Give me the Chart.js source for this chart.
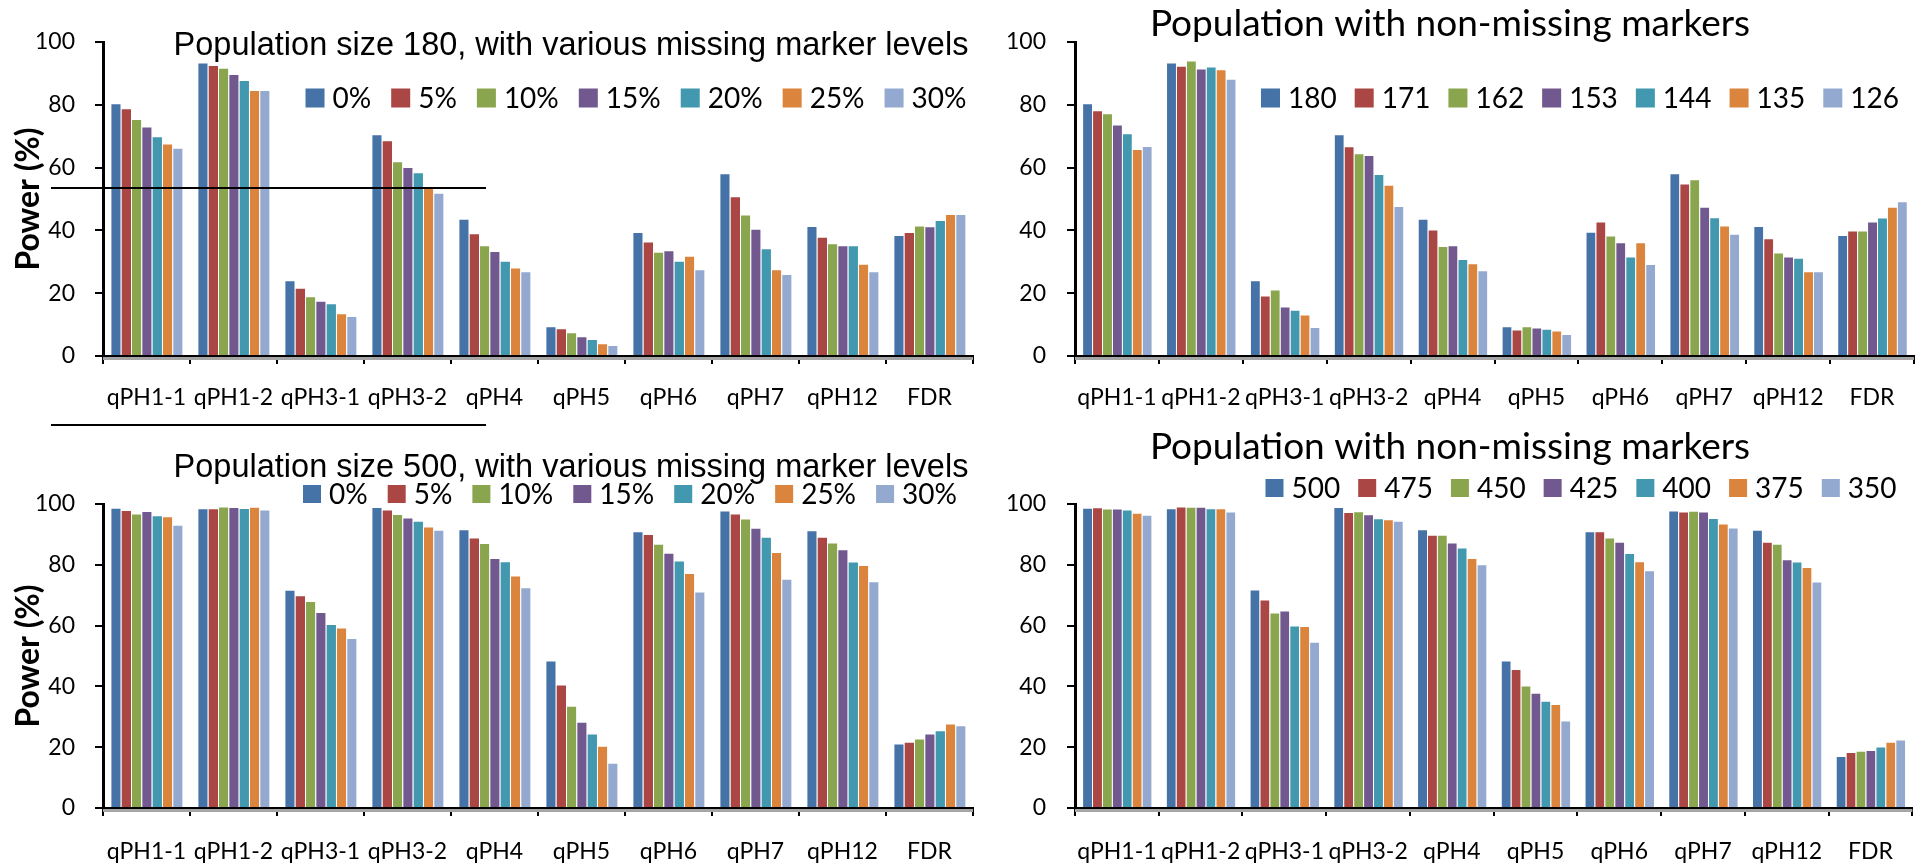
<!DOCTYPE html>
<html>
<head>
<meta charset="utf-8">
<script src="https://cdn.jsdelivr.net/npm/chart.js@4.4.1/dist/chart.umd.min.js"></script>
<style>
  html, body { margin: 0; padding: 0; background: #fff; }
  #wrap { position: relative; width: 1915px; height: 868px; overflow: hidden; }
  .panel { position: absolute; }
</style>
</head>
<body>
<div id="wrap">
  <div class="panel" style="left:0;top:0"><canvas id="c180miss" width="980" height="430"></canvas></div>
  <div class="panel" style="left:980px;top:0"><canvas id="c180full" width="935" height="430"></canvas></div>
  <div class="panel" style="left:0;top:430px"><canvas id="c500miss" width="980" height="438"></canvas></div>
  <div class="panel" style="left:980px;top:430px"><canvas id="c500full" width="935" height="438"></canvas></div>
</div>
<script>
const categories = ['qPH1-1', 'qPH1-2', 'qPH3-1', 'qPH3-2', 'qPH4', 'qPH5', 'qPH6', 'qPH7', 'qPH12', 'FDR'];
const missingLevels = ['0%', '5%', '10%', '15%', '20%', '25%', '30%'];
const sizes180 = ['180', '171', '162', '153', '144', '135', '126'];
const sizes500 = ['500', '475', '450', '425', '400', '375', '350'];
const yTicks = [0, 20, 40, 60, 80, 100];
const seriesColors = ['#4572A7', '#AA4643', '#89A54E', '#71588F', '#4198AF', '#DB843D', '#93A9CF'];

// one row per series, values follow the categories order
const pop180Missing = [
  [80.5, 93.5, 24.1, 70.6, 43.7, 9.5, 39.5, 58.2, 41.4, 38.5],
  [78.9, 92.7, 21.7, 68.7, 39.1, 8.8, 36.5, 50.9, 38.0, 39.5],
  [75.5, 91.8, 19.0, 62.0, 35.3, 7.6, 33.2, 45.1, 35.9, 41.6],
  [73.1, 89.8, 17.6, 60.2, 33.4, 6.3, 33.7, 40.5, 35.3, 41.3],
  [70.0, 87.9, 16.8, 58.5, 30.3, 5.4, 30.3, 34.3, 35.3, 43.3],
  [67.7, 84.7, 13.6, 54.1, 28.2, 4.1, 31.9, 27.6, 29.4, 45.2],
  [66.3, 84.7, 12.7, 52.0, 27.0, 3.5, 27.6, 26.1, 27.0, 45.2]
];
const pop180Full = [
  [80.5, 93.5, 24.1, 70.6, 43.7, 9.5, 39.6, 58.2, 41.4, 38.5],
  [78.3, 92.4, 19.3, 66.8, 40.3, 8.4, 42.8, 54.9, 37.5, 40.0],
  [77.3, 94.1, 21.2, 64.6, 35.0, 9.5, 38.4, 56.3, 33.0, 40.0],
  [73.7, 91.6, 15.8, 64.0, 35.3, 9.1, 36.2, 47.5, 31.7, 42.8],
  [70.9, 92.2, 14.7, 58.0, 30.9, 8.7, 31.7, 44.2, 31.3, 44.1],
  [65.9, 91.3, 13.2, 54.5, 29.5, 8.1, 36.2, 41.6, 27.0, 47.5],
  [66.9, 88.3, 9.2, 47.8, 27.3, 7.0, 29.3, 38.9, 27.0, 49.3]
];
const pop500Missing = [
  [98.8, 98.6, 71.8, 99.0, 91.7, 48.5, 91.0, 97.9, 91.4, 21.2],
  [98.0, 98.6, 70.0, 98.2, 89.0, 40.6, 90.1, 96.9, 89.2, 21.8],
  [96.9, 99.2, 68.1, 96.7, 87.2, 33.6, 86.9, 95.2, 87.3, 22.9],
  [97.7, 99.0, 64.5, 95.6, 82.2, 28.4, 84.0, 92.2, 85.1, 24.5],
  [96.3, 98.7, 60.5, 94.5, 81.2, 24.5, 81.4, 89.2, 81.1, 25.6],
  [96.0, 99.1, 59.4, 92.6, 76.5, 20.5, 77.3, 84.2, 79.9, 27.8],
  [93.2, 98.2, 55.9, 91.5, 72.6, 14.9, 71.2, 75.4, 74.6, 27.2]
];
const pop500Full = [
  [98.8, 98.6, 71.9, 99.0, 91.7, 48.5, 91.0, 97.9, 91.5, 17.1],
  [98.9, 99.2, 68.6, 97.4, 89.9, 45.7, 91.0, 97.5, 87.6, 18.4],
  [98.5, 99.1, 64.3, 97.6, 89.9, 40.3, 89.0, 97.8, 86.9, 18.8],
  [98.5, 99.1, 65.0, 96.6, 87.3, 37.9, 87.6, 97.5, 81.8, 19.1],
  [98.2, 98.6, 60.0, 95.3, 85.7, 35.3, 83.9, 95.4, 81.1, 20.2],
  [97.1, 98.6, 59.9, 95.0, 82.2, 34.2, 81.2, 93.6, 79.3, 21.8],
  [96.5, 97.5, 54.7, 94.5, 80.2, 28.8, 78.2, 92.3, 74.5, 22.5]
];

const calibriLike = 'Lato, "Open Sans", sans-serif';

// title, legend and a couple of loose rules drawn straight on the canvas
const overlay = {
  id: 'overlay',
  beforeDatasetsDraw(chart) {
    // grey shadow under the category axis, like the original
    const { left, right, bottom } = chart.chartArea;
    const ctx = chart.ctx;
    ctx.save();
    ctx.fillStyle = '#a6a6a6';
    ctx.fillRect(left, bottom + 1, right - left, 3);
    ctx.restore();
  },
  afterDraw(chart, args, opts) {
    const ctx = chart.ctx;
    ctx.save();
    if (opts.title) {
      ctx.font = opts.title.font;
      ctx.fillStyle = '#000';
      ctx.textAlign = 'center';
      ctx.textBaseline = 'alphabetic';
      ctx.fillText(opts.title.text, opts.title.x, opts.title.y);
    }
    if (opts.legend) {
      const lg = opts.legend;
      ctx.font = lg.font;
      const items = chart.data.datasets.map(ds => ({
        label: ds.label,
        color: ds.backgroundColor,
        w: ctx.measureText(ds.label).width
      }));
      const total = items.reduce((s, it) => s + lg.box + lg.pad + it.w, 0) + lg.gap * (items.length - 1);
      let x = lg.x - total / 2;
      items.forEach(it => {
        ctx.fillStyle = it.color;
        ctx.fillRect(x, lg.y - lg.box / 2, lg.box, lg.box);
        ctx.fillStyle = '#000';
        ctx.textAlign = 'left';
        ctx.textBaseline = 'middle';
        ctx.fillText(it.label, x + lg.box + lg.pad, lg.y + 1);
        x += lg.box + lg.pad + it.w + lg.gap;
      });
    }
    (opts.lines || []).forEach(l => {
      ctx.strokeStyle = '#000';
      ctx.lineWidth = 2;
      ctx.beginPath();
      ctx.moveTo(l[0], l[1]);
      ctx.lineTo(l[2], l[3]);
      ctx.stroke();
    });
    ctx.restore();
  }
};

function makeChart(id, cfg) {
  const datasets = cfg.series.map((vals, i) => ({
    label: cfg.labels[i],
    data: vals,
    backgroundColor: seriesColors[i],
    borderColor: 'rgba(255,255,255,0.5)',
    borderWidth: { left: 1, top: 1, right: 0, bottom: 0 },
    borderSkipped: false,
    barPercentage: 1,
    categoryPercentage: 0.83
  }));

  return new Chart(document.getElementById(id), {
    type: 'bar',
    data: { labels: categories, datasets },
    plugins: [overlay],
    options: {
      responsive: false,
      animation: false,
      layout: { padding: cfg.padding },
      plugins: {
        legend: { display: false },
        tooltip: { enabled: false },
        overlay: { title: cfg.title, legend: cfg.legend, lines: cfg.lines }
      },
      scales: {
        x: {
          grid: { offset: true, drawOnChartArea: false, drawTicks: true, tickLength: 8, color: '#000', lineWidth: 2 },
          border: { display: true, color: '#000', width: 2 },
          ticks: {
            autoSkip: false, maxRotation: 0, minRotation: 0,
            color: '#000', padding: cfg.xPad,
            font: { family: calibriLike, size: 23 }
          },
          afterFit: s => { s.height = cfg.xHeight; }
        },
        y: {
          min: 0,
          max: 100,
          afterBuildTicks: s => { s.ticks = yTicks.map(v => ({ value: v })); },
          grid: { drawOnChartArea: false, drawTicks: true, tickLength: 8, color: '#000', lineWidth: 2 },
          border: { display: true, color: '#000', width: 3 },
          ticks: { color: '#000', padding: cfg.yPad, font: { family: calibriLike, size: 23 } },
          title: {
            display: !!cfg.yTitle,
            text: cfg.yTitle || '',
            color: '#000',
            padding: { top: 9, bottom: 0 },
            font: { family: calibriLike, size: 32, weight: 'bold' }
          },
          afterFit: s => { s.width = cfg.yWidth; }
        }
      }
    }
  });
}

const arialTitle = '32.5px "Liberation Sans", Arial, sans-serif';
const calibriTitle = '37px ' + calibriLike;
const legendFont = '28px ' + calibriLike;

makeChart('c180miss', {
  series: pop180Missing, labels: missingLevels, yTitle: 'Power (%)',
  padding: { top: 42, right: 7, left: 0, bottom: 0 }, yWidth: 103, xHeight: 74, xPad: 20, yPad: 20,
  title: { text: 'Population size 180, with various missing marker levels', font: arialTitle, x: 571, y: 55 },
  legend: { font: legendFont, x: 636, y: 98, box: 19, pad: 8, gap: 20 },
  lines: [[51, 188, 486, 188], [51, 425, 486, 425]]
});

makeChart('c180full', {
  series: pop180Full, labels: sizes180, yTitle: null,
  padding: { top: 42, right: 1, left: 0, bottom: 0 }, yWidth: 95, xHeight: 74, xPad: 20, yPad: 21,
  title: { text: 'Population with non-missing markers', font: calibriTitle, x: 470, y: 36 },
  legend: { font: legendFont, x: 600, y: 98, box: 19, pad: 8, gap: 18 }
});

makeChart('c500miss', {
  series: pop500Missing, labels: missingLevels, yTitle: 'Power (%)',
  padding: { top: 74, right: 7, left: 0, bottom: 0 }, yWidth: 103, xHeight: 60, xPad: 22, yPad: 20,
  title: { text: 'Population size 500, with various missing marker levels', font: arialTitle, x: 571, y: 47 },
  legend: { font: legendFont, x: 630, y: 64, box: 18, pad: 8, gap: 20 }
});

makeChart('c500full', {
  series: pop500Full, labels: sizes500, yTitle: null,
  padding: { top: 74, right: 1, left: 0, bottom: 0 }, yWidth: 95, xHeight: 60, xPad: 22, yPad: 21,
  title: { text: 'Population with non-missing markers', font: calibriTitle, x: 470, y: 29 },
  legend: { font: legendFont, x: 601, y: 58, box: 18, pad: 8, gap: 18 }
});
</script>
</body>
</html>
